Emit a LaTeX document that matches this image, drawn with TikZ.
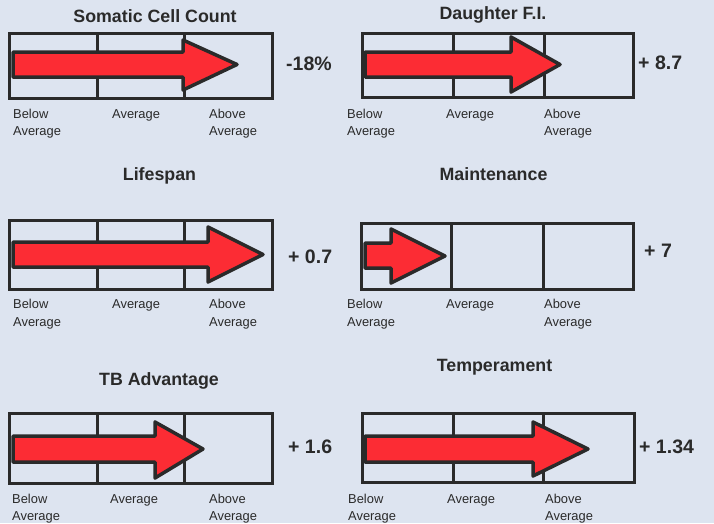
\documentclass[tikz,border=0pt]{standalone}
\usepackage{fontspec}
\setmainfont{Liberation Sans}
\definecolor{bg}{RGB}{221,228,240}
\definecolor{ink}{RGB}{42,42,42}
\definecolor{arrowred}{RGB}{252,44,52}
\tikzset{
  panelbox/.style={draw=ink, line width=3pt},
  divider/.style={draw=ink, line width=3pt},
  bigarrow/.style={draw=ink, fill=arrowred, line width=3.5pt, line join=round},
  titletext/.style={font=\fontsize{17.8}{20}\selectfont\bfseries, text=ink, anchor=base, inner sep=0pt},
  valuetext/.style={font=\fontsize{19.5}{22}\selectfont\bfseries, text=ink, anchor=base west, inner sep=0pt},
  scaletext/.style={font=\fontsize{12.9}{17.8}\selectfont, text=ink, anchor=base west, inner sep=0pt, align=left},
}
\newcommand{\gaugebox}[6]{%
  \draw[panelbox] (#1,#2) rectangle (#3,#4);
  \draw[divider] (#5,#2) -- (#5,#4);
  \draw[divider] (#6,#2) -- (#6,#4);}
\newcommand{\fatarrow}[8]{% left, shafttop, shaftbot, headx, headtop, headbot, tipx, tipy
  \draw[bigarrow] (#1,#2) -- (#4,#2) -- (#4,#5) -- (#7,#8) -- (#4,#6) -- (#4,#3) -- (#1,#3) -- cycle;}
\newcommand{\scalelabels}[5]{% prefix, xbelow, xavg, xabove, first baseline
  \node[scaletext] (#1below) at (#2,{#5+17.8}) {Below\\Average};
  \node[scaletext] (#1avg) at (#3,#5) {Average};
  \node[scaletext] (#1above) at (#4,{#5+17.8}) {Above\\Average};}
\begin{document}
\begin{tikzpicture}[x=1pt,y=-1pt]
\fill[bg] (0,0) rectangle (714,523);
\useasboundingbox (0,0) rectangle (714,523);

% boxes
\gaugebox{9}{33}{272}{98}{97}{184}
\gaugebox{362}{33}{633}{97}{453}{544}
\gaugebox{9}{220}{272}{289}{97}{184}
\gaugebox{361}{223}{633}{289}{451}{543}
\gaugebox{9}{413}{272}{483}{97}{184}
\gaugebox{362}{413}{634}{482}{453}{543}

% arrows
\fatarrow{13}{52}{77}{183}{40}{90}{237}{64.5}
\fatarrow{365}{52}{77}{511}{37}{92}{560}{64.5}
\fatarrow{13}{242}{267}{208}{227}{282}{263}{254.5}
\fatarrow{365}{243}{268}{391}{229}{283}{445}{256}
\fatarrow{13}{436}{462}{155}{422}{478}{203}{449}
\fatarrow{365}{436}{462}{533}{422}{476}{588}{449}

% titles
\node[titletext] (t1) at (155,22.7) {Somatic Cell Count};
\node[titletext] (t2) at (493,19) {Daughter F.I.};
\node[titletext] (t3) at (159.5,180.7) {Lifespan};
\node[titletext] (t4) at (493.5,180.7) {Maintenance};
\node[titletext] (t5) at (159,385.3) {TB Advantage};
\node[titletext] (t6) at (494.5,371) {Temperament};

% values
\node[valuetext] (v1) at (286,70) {-18\%};
\node[valuetext] (v2) at (638,69.3) {+ 8.7};
\node[valuetext] (v3) at (288,263.3) {+ 0.7};
\node[valuetext] (v4) at (644,257.3) {+ 7};
\node[valuetext] (v5) at (288,453.3) {+ 1.6};
\node[valuetext] (v6) at (639,453.3) {+ 1.34};

% scale labels
\scalelabels{a}{13}{112}{209}{118}
\scalelabels{b}{347}{446}{544}{118}
\scalelabels{c}{13}{112}{209}{308.5}
\scalelabels{d}{347}{446}{544}{308.5}
\scalelabels{e}{12}{110}{209}{503}
\scalelabels{f}{348}{447}{545}{503}
\end{tikzpicture}
\end{document}
